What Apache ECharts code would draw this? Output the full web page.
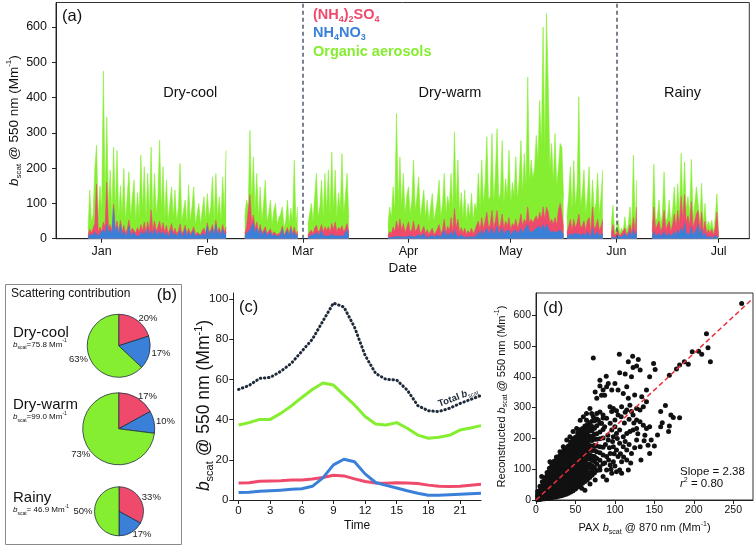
<!DOCTYPE html>
<html><head><meta charset="utf-8">
<script src="https://cdn.jsdelivr.net/npm/echarts@6/dist/echarts.min.js"></script>
<style>html,body{margin:0;padding:0;background:#fff}#c{width:756px;height:547px}</style>
</head><body><div id="c"></div>
<script>
const FONT = '"Liberation Sans", Arial, sans-serif';
const RED = '#ef4a6c', BLUE = '#3b80d8', GREEN = '#86ee30', DARK = '#1e2a3a';

// ---------- Panel (a): time series, sampled every half day ----------
const monthStarts = [0, 31, 59, 90, 120, 151, 181];
const monthNames = ['Jan', 'Feb', 'Mar', 'Apr', 'May', 'Jun', 'Jul'];
const seasonBoundaries = [59, 151];
const segmentStart = [-4, 42, 60.5, 84, 136.5, 149.5, 161.5];
const sampleStep = 0.5;
const nitrate = [
  [4,12,8,10,18,15,8,15,10,25, 15,40,18,25,12,85,15,35,10,40, 10,20,8,15,35,8,12,18,8,12, 8,18,10,22,8,28,10,22,10,28, 10,15,22,10,20,8,18,6,12,25, 8,15,6,10,22,6,12,28,6,18, 8,12,22,6,10,12,6,15,20,8, 35,10,18,28,8,40,10,22,8,28, 10,18],
  [8,15,12,25,25,45,15,30,10,28,10,15,22,8,10,18,6,12,15,6,10,10,28,5,8,22,6,28,8,18,6,12],
  [5,8,10,6,12,18,8,10,22,8,12,8,12,8,15,8,12,8,10,8,12,8,12,25,8],
  [3,5,4,8,5,10,6,10,5,8, 4,6,8,5,6,10,5,8,12,5, 8,15,5,8,4,6,10,4,6,10, 15,5,10,25,5,15,8,20,6,25, 10,15,5,12,5,10,4,8,5,10, 5,10,8,20,10,25,10,20,30,12, 15,30,10,20,35,12,15,30,10,20, 15,25,10,18,15,25,12,20,30,15, 25,20,40,20,25,20,20,30,25,35, 25,40,25,40,35,20,25,20,25,18, 20,25,20,12],
  [5,10,15,8,15,10,15,20,10,12,15,8,20,20,5,30,8,10,20,8,10,15],
  [5,10,3,5,8,3,5,4,15,4,8,20,6,25,8,20],
  [6,20,8,10,15,6,10,20,8,10, 15,6,12,20,10,25,12,30,15,45, 15,20,12,35,10,15,25,40,8,30, 6,15,5,8,5,10,3,10,15,2]
];
const sulfate = [
  [5,15,8,10,25,140,8,18,10,22, 18,120,10,15,8,12,10,15,8,12, 10,18,8,12,18,8,18,15,8,20, 10,22,12,25,10,20,12,60,12,22, 12,18,28,12,25,10,20,8,15,18, 8,15,8,12,20,8,10,10,6,12, 6,10,12,5,8,10,5,8,10,6, 10,8,8,12,6,12,8,10,6,12, 8,15],
  [8,18,18,100,18,22,12,18,8,12,6,10,12,6,8,10,5,8,8,5,6,8,8,4,6,10,5,8,6,15,6,10],
  [6,10,15,8,18,20,10,15,18,10,22,15,22,12,28,18,35,12,22,18,25,12,18,18,10],
  [6,15,10,25,15,40,20,45,18,35, 14,25,40,15,20,40,15,20,30,10, 15,20,10,18,8,15,20,8,12,18, 25,10,15,30,12,20,15,40,15,60, 20,40,12,20,10,20,8,15,10,20, 8,15,12,30,15,35,18,30,45,20, 25,50,20,30,45,20,25,40,18,30, 20,35,15,25,20,30,18,25,40,20, 30,25,50,25,30,25,25,35,25,40, 30,50,30,50,40,25,30,20,35,20, 60,75,50,20],
  [12,25,40,15,40,20,30,50,20,25,35,15,30,40,12,60,20,25,35,15,25,40],
  [10,30,6,10,15,5,10,6,15,6,12,20,10,35,10,70],
  [14,70,18,20,35,14,25,60,18,20, 35,14,28,50,20,55,25,90,35,80, 30,45,25,70,20,35,45,40,16,45, 14,35,10,18,10,18,7,20,60,3]
];
const organic = [
  [16,111,29,50,156,110,44,117,60,428, 87,185,62,155,50,163,55,200,42,98, 50,161,34,93,137,44,89,133,34,98, 42,197,58,157,42,137,48,178,38,135, 48,87,229,58,159,42,128,36,73,104, 44,108,36,68,171,36,58,72,28,122, 36,68,113,29,52,78,29,57,89,36, 83,42,64,135,36,133,42,87,36,135, 52,217],
  [44,77,60,182,57,165,53,137,42,107,34,75,132,36,52,82,29,60,77,29,44,52,54,21,36,78,29,50,36,189,28,68],
  [29,52,75,36,90,147,42,65,126,42,151,57,161,50,203,54,148,40,98,54,204,50,90,142,42],
  [31,70,46,114,60,305,74,177,67,142, 52,89,99,50,84,173,60,92,133,45, 77,103,45,84,38,69,98,38,62,82, 126,45,75,130,53,85,67,125,59,218, 70,168,53,98,45,108,38,77,45,98, 37,75,60,135,65,163,72,110,214,78, 80,218,70,130,232,78,90,208,72,120, 85,191,75,117,85,177,80,125,208,95, 186,105,368,115,168,125,155,228,170,317, 205,510,195,548,365,155,215,120,238,112, 120,170,190,88],
  [43,85,149,57,167,60,105,332,60,93,145,47,70,144,43,76,52,65,130,47,85,140],
  [25,55,11,15,30,7,15,10,32,10,20,50,14,177,22,76],
  [20,121,24,30,60,20,35,110,24,30, 60,20,40,77,30,76,33,122,40,93, 35,55,33,120,30,50,77,72,26,82, 20,50,15,24,15,25,10,30,52,5]
];
const yTicksA = [0, 100, 200, 300, 400, 500, 600];

// ---------- Panel (b): scattering contribution (%) ----------
const speciesNames = ['(NH4)2SO4', 'NH4NO3', 'Organic aerosols'];
const dryCoolShare = [20, 17, 63];
const dryWarmShare = [17, 10, 73];
const rainyShare = [33, 17, 50];

// ---------- Panel (c): diurnal cycle ----------
const hours = [0,1,2,3,4,5,6,7,8,9,10,11,12,13,14,15,16,17,18,19,20,21,22,23];
const diurnalTotal   = [55,57,60.5,61,64,68,74,80,89,98,96,86,72,63,60,59.7,54.7,47,44.4,44,45.6,48,50,52];
const diurnalOrganic = [37.3,38.5,40.1,40.1,43.1,46.8,51,55,58.2,57.2,52.2,47.3,41.5,37.8,37.3,38.5,35.7,32.3,30.7,31.2,32.2,34.8,35.8,37];
const diurnalSulfate = [8.5,8.6,9.3,9.4,9.6,10,10,10.4,11.2,12.3,12,10.5,9.2,8.5,8.3,8.6,8.4,8.2,7.4,6.9,6.7,6.8,7.3,7.8];
const diurnalNitrate = [3.7,3.8,4.3,4.6,4.9,5.3,5.6,6.8,11,17.5,20.3,19,13,8.7,7.3,6,4.6,3.4,2.4,2.4,2.6,2.9,3.1,3.4];
const xTicksC = [0,3,6,9,12,15,18,21];
const yTicksC = [0,20,40,60,80,100];

// ---------- Panel (d): reconstructed vs PAX scattering ----------
const coreColumnsX = [2,5,8,11,14,17,20,23,26,29,32,35,38,41,44,47,50,53,56,59,62,65,68,71,74,77,81,85];
const coreColumnsY = [
  [1,10,17,28],
  [2,11,23,32,45],
  [3,14,23,36,46,59],
  [4,16,26,40,49,63,72],
  [5,16,30,40,54,65,79,89],
  [6,19,29,44,54,69,79,93,103],
  [7,18,33,44,59,69,84,95,109,117],
  [9,22,33,48,59,74,85,100,111,126],
  [10,22,37,48,63,74,89,100,115,126,138],
  [12,26,37,52,63,78,89,104,115,130,141],
  [14,26,41,52,67,78,93,104,119,130,145,153],
  [16,30,41,56,67,82,93,108,119,134,145,159],
  [19,31,46,57,72,83,98,109,124,135,150,161,169],
  [22,36,47,62,73,88,99,114,125,140,151,166,175],
  [26,38,53,64,79,90,105,116,131,142,157,168,183,189],
  [30,44,55,70,81,96,107,122,133,148,159,174,185,199],
  [36,48,63,74,89,100,115,126,141,152,167,178,193,204],
  [42,56,67,82,93,108,119,134,145,160,171,186,197,212,218],
  [48,60,75,86,101,112,127,138,153,164,179,190,205,216,228],
  [54,68,79,94,105,120,131,146,157,172,183,198,209,224,232],
  [60,72,87,98,113,124,139,150,165,176,191,202,217,228,240],
  [66,80,91,106,117,132,143,158,169,184,195,210,221,236,244],
  [73,87,104,117,134,147,164,177,194,207,224,237,251],
  [80,97,111,129,143,161,175,193,207,225,239,256],
  [88,105,125,141,161,177,197,213,233,257],
  [96,117,135,157,175,197,215,241,263],
  [108,129,153,173,199,221,249],
  [118,146,171,201,229,266]
];
const scatteredPoints = [
  [260.6,638],[216,540],[218,494],[206,483],[198,481],[210,473],[221,449],[193,441],[188,449],[182,438],[178,425],[169,405],
  [72.6,461],[105.6,473],[122.5,467],[129.6,456],[117,449],[127.5,435],[123,430],[132,422],[106,413],[113,409],[121,400],[89,402],[100,378],[151,424],[149,443],[144,400],[140,357],[81,370],[75,351],[77,330],[87,340],
  [164,307],[158,287],[160,251],[158,238],[154,211],[171,276],[174,268],[169,240],[168,222],[182,267],
  [93.8,303],[95.9,287],[98,297],[102,290],[104,276],[108.5,303],[115,292],[119,308],[121,287],[123,276],[127.5,297],[131.8,292],[136,303],[127.5,260],[131.8,254],[136,243],[140,232],[144,238],[127.5,232],[123,227],[119,222],[115,216],[110.6,205],[121,151],[127.5,195],[137,192],[142,178],[144,151],[132,173],[108.5,87],[106,97],[98,124],[94,114],[81,97],[75,65],[68.4,52],[85,76],[89.5,65],[7.2,76],[17.7,124],[58,38],[62,32],
  [83,340],[85,357],[89.5,368],[96,357],[81,389],[91.6,378],[104,357],[110.6,346],[117,330],[125,341],[134,335],[140,319],[115,368],
  [72.6,270],[77,281],[81,286],[85,276],[89.5,265],[79,259],[83,249],[87,238],[94,249],[96,227],[100,238],[102,216],[106,227],[98,205],[91.6,195],[106,184],[110.6,173],[115,162],[102,162],[98,173],[94,151],[89.5,141],[104,141],[108.5,124],[115,130],[117,97],[102,92],[96,87],[89.5,97],
  [56,259],[60,270],[64,281],[51.5,232],[47,222],[43,205],[39,195],[34.6,173],[30.4,157],[26,140],[68.4,297],[70.5,281],[64,259],
  [88,180],[91,210],[93,170],[97,190],[99,150],[92,130],[87,120],[95,100],[100,110],[103,200],[107,150],[111,140],[113,190],[118,180],[120,120],[125,170],[129,215],[133,130],[138,210],[146,195],[150,175],[112,250],[118,262],[124,250],[100,260],[108,270],[113,285]
];
const regressionSlope = 2.38;
const xTicksD = [0,50,100,150,200,250];
const yTicksD = [0,100,200,300,400,500,600];

// ---------- build ----------
// cumulative layers (nitrate at the bottom, sulfate above, organics on top)
function layer(parts) {
  const out = [];
  segmentStart.forEach((t0, k) => {
    const n = parts[0][k].length;
    for (let j = 0; j < n; j++) {
      let s = 0;
      parts.forEach(p => { s += p[k][j]; });
      out.push([t0 + j * sampleStep, s]);
    }
    out.push([t0 + n * sampleStep, '-']);
  });
  return out;
}
function rich(size, color) {
  const sub = Math.round(size * 0.6);
  color = color || '#111';
  return {
    i: {fontStyle: 'italic', fontSize: size, fontFamily: FONT, color, lineHeight: size + 4},
    s: {fontSize: sub, fontFamily: FONT, color, verticalAlign: 'bottom', lineHeight: sub},
    p: {fontSize: sub, fontFamily: FONT, color, verticalAlign: 'top', lineHeight: sub}
  };
}
const corePoints = [];
coreColumnsX.forEach((x, i) => coreColumnsY[i].forEach(y => corePoints.push([x, y])));

const axisCommon = () => ({
  axisLine: {show: true, onZero: false, lineStyle: {color: '#222', width: 1}},
  splitLine: {show: false},
  nameMoveOverlap: false
});
const bscatName = '{i|b}{s|scat} @ 550 nm (Mm{p|-1})';

const xAxes = [
  Object.assign(axisCommon(), {gridIndex: 0, type: 'value', min: -13.4, max: 190,
    axisTick: {show: true, length: 4, customValues: monthStarts, lineStyle: {color: '#222'}},
    axisLabel: {fontFamily: FONT, fontSize: 12.5, color: '#111', margin: 6, customValues: monthStarts,
      formatter: v => monthNames[monthStarts.indexOf(v)]},
    name: 'Date', nameLocation: 'middle', nameGap: 23,
    nameTextStyle: {fontFamily: FONT, fontSize: 13.5, color: '#111'}}),
  Object.assign(axisCommon(), {gridIndex: 1, type: 'value', min: -0.5, max: 23,
    axisTick: {show: true, length: 4, customValues: xTicksC, lineStyle: {color: '#222'}},
    axisLabel: {fontFamily: FONT, fontSize: 11.5, color: '#111', margin: 5, customValues: xTicksC},
    name: 'Time', nameLocation: 'middle', nameGap: 20,
    nameTextStyle: {fontFamily: FONT, fontSize: 12, color: '#111'}}),
  Object.assign(axisCommon(), {gridIndex: 2, type: 'value', min: 0, max: 275,
    axisTick: {show: true, length: 4, customValues: xTicksD, lineStyle: {color: '#222'}},
    axisLabel: {fontFamily: FONT, fontSize: 10.5, color: '#111', margin: 5, customValues: xTicksD},
    name: 'PAX {i|b}{s|scat} @ 870 nm (Mm{p|-1})', nameLocation: 'middle', nameGap: 20.5,
    nameTextStyle: {fontFamily: FONT, fontSize: 11, color: '#111', lineHeight: 15, rich: rich(11)}})
];
const yAxes = [
  Object.assign(axisCommon(), {gridIndex: 0, type: 'value', min: 0, max: 669.5,
    axisTick: {show: true, length: 4, customValues: yTicksA, lineStyle: {color: '#222'}},
    axisLabel: {fontFamily: FONT, fontSize: 12.5, color: '#111', margin: 9, customValues: yTicksA},
    name: bscatName, nameLocation: 'middle', nameGap: 33, nameRotate: 90,
    nameTextStyle: {fontFamily: FONT, fontSize: 13.5, color: '#111', lineHeight: 18, rich: rich(13.5)}}),
  Object.assign(axisCommon(), {gridIndex: 1, type: 'value', min: 0, max: 103,
    axisTick: {show: true, length: 4, customValues: yTicksC, lineStyle: {color: '#222'}},
    axisLabel: {fontFamily: FONT, fontSize: 11.5, color: '#111', margin: 5, customValues: yTicksC},
    name: bscatName, nameLocation: 'middle', nameGap: 18, nameRotate: 90,
    nameTextStyle: {fontFamily: FONT, fontSize: 17.5, color: '#111', lineHeight: 21, rich: rich(17.5), padding: [0, 18, 0, 0]}}),
  Object.assign(axisCommon(), {gridIndex: 2, type: 'value', min: 0, max: 672,
    axisTick: {show: true, length: 4, customValues: yTicksD, lineStyle: {color: '#222'}},
    axisLabel: {fontFamily: FONT, fontSize: 10.5, color: '#111', margin: 5, customValues: yTicksD},
    name: 'Reconstructed ' + bscatName, nameLocation: 'middle', nameGap: 27, nameRotate: 90,
    nameTextStyle: {fontFamily: FONT, fontSize: 11, color: '#111', lineHeight: 15, rich: rich(11)}})
];

function areaSeries(name, data, color, z) {
  return {type: 'line', name, xAxisIndex: 0, yAxisIndex: 0, data, connectNulls: false,
    symbol: 'none', silent: true, z, lineStyle: {width: 0.6, color}, areaStyle: {color, opacity: 1, origin: 'start'}};
}
function pieSeries(values, center, radius) {
  return {type: 'pie', center, radius, startAngle: 90, clockwise: true, silent: true, avoidLabelOverlap: false,
    data: values.map((v, i) => ({value: v, name: speciesNames[i], itemStyle: {color: [RED, BLUE, GREEN][i]}})),
    itemStyle: {borderColor: '#1f2d3d', borderWidth: 0.8},
    label: {show: true, position: 'outside', formatter: '{c}%', fontFamily: FONT, fontSize: 9.5, color: '#222', distanceToLabelLine: 0},
    labelLine: {show: false, length: 2, length2: 0}};
}
function diurnal(values, color, style) {
  return {type: 'line', xAxisIndex: 1, yAxisIndex: 1, data: hours.map((h, i) => [h, values[i]]),
    symbol: 'none', silent: true, lineStyle: Object.assign({width: 3, color, join: 'round'}, style || {})};
}

const gridBase = {outerBoundsMode: 'none', containLabel: false};
const option = {
  animation: false,
  backgroundColor: '#fff',
  grid: [
    Object.assign({left: 56, top: 2.5, width: 693.3, height: 236.2, show: true, borderColor: '#333', borderWidth: 1}, gridBase),
    Object.assign({left: 233.3, top: 293, width: 247.7, height: 207}, gridBase),
    Object.assign({left: 536, top: 293, width: 217, height: 207, show: true, borderColor: '#333', borderWidth: 1}, gridBase)
  ],
  xAxis: xAxes,
  yAxis: yAxes,
  series: [
    Object.assign(areaSeries('Organic aerosols', layer([nitrate, sulfate, organic]), GREEN, 2), {
      markLine: {silent: true, symbol: ['none', 'none'], label: {show: false},
        lineStyle: {color: '#4d5b6b', type: [4, 3], width: 1.5},
        data: seasonBoundaries.map(v => ({xAxis: v}))}
    }),
    areaSeries('(NH4)2SO4', layer([nitrate, sulfate]), RED, 3),
    areaSeries('NH4NO3', layer([nitrate]), BLUE, 4),
    pieSeries(dryCoolShare, [118.7, 345.8], 31.5),
    pieSeries(dryWarmShare, [118.7, 428.8], 36),
    pieSeries(rainyShare, [119, 511.3], 24.5),
    diurnal(diurnalOrganic, GREEN),
    diurnal(diurnalSulfate, RED),
    diurnal(diurnalNitrate, BLUE),
    diurnal(diurnalTotal, DARK, {type: [0.5, 3.6], cap: 'round', width: 3}),
    {type: 'scatter', xAxisIndex: 2, yAxisIndex: 2, data: corePoints.concat(scatteredPoints),
      symbolSize: 5, silent: true, itemStyle: {color: '#111', opacity: 1}},
    {type: 'line', xAxisIndex: 2, yAxisIndex: 2, symbol: 'none', silent: true, z: 5,
      data: [[0, 0], [275, regressionSlope * 275]],
      lineStyle: {color: '#e8303c', width: 1.5, type: [5, 3]}}
  ],
  graphic: [
    {type: 'text', x: 62, y: 16, style: {text: '(a)', font: '16.5px ' + FONT, fill: '#111', verticalAlign: 'middle'}},
    {type: 'text', x: 313, y: 15, style: {text: '(NH{s|4}){s|2}SO{s|4}', fontFamily: FONT, fontSize: 14.5, fontWeight: 'bold', fill: RED, verticalAlign: 'middle', lineHeight: 18,
      rich: {s: {fontSize: 9, fontWeight: 'bold', fontFamily: FONT, fill: RED, verticalAlign: 'bottom', lineHeight: 9}}}},
    {type: 'text', x: 313, y: 33, style: {text: 'NH{s|4}NO{s|3}', fontFamily: FONT, fontSize: 14.5, fontWeight: 'bold', fill: BLUE, verticalAlign: 'middle', lineHeight: 18,
      rich: {s: {fontSize: 9, fontWeight: 'bold', fontFamily: FONT, fill: BLUE, verticalAlign: 'bottom', lineHeight: 9}}}},
    {type: 'text', x: 313, y: 52, style: {text: 'Organic aerosols', font: 'bold 14.5px ' + FONT, fill: GREEN, verticalAlign: 'middle'}},
    {type: 'text', x: 190.3, y: 93, style: {text: 'Dry-cool', font: '14.5px ' + FONT, fill: '#111', align: 'center', verticalAlign: 'middle'}},
    {type: 'text', x: 450, y: 93, style: {text: 'Dry-warm', font: '14.5px ' + FONT, fill: '#111', align: 'center', verticalAlign: 'middle'}},
    {type: 'text', x: 682.5, y: 93, style: {text: 'Rainy', font: '14.5px ' + FONT, fill: '#111', align: 'center', verticalAlign: 'middle'}},
    // panel (b)
    {type: 'rect', shape: {x: 5.5, y: 284.5, width: 176, height: 260}, style: {fill: 'none', stroke: '#8a8a8a', lineWidth: 1}},
    {type: 'text', x: 11, y: 293.5, style: {text: 'Scattering contribution', font: '12px ' + FONT, fill: '#111', verticalAlign: 'middle'}},
    {type: 'text', x: 177, y: 295, style: {text: '(b)', font: '16.5px ' + FONT, fill: '#111', align: 'right', verticalAlign: 'middle'}},
    {type: 'text', x: 13, y: 333, style: {text: 'Dry-cool', font: '15px ' + FONT, fill: '#111', verticalAlign: 'middle'}},
    {type: 'text', x: 13, y: 344.5, style: {text: '{i|b}{s|scat}=75.8 Mm{p|-1}', fontFamily: FONT, fontSize: 8, fill: '#111', verticalAlign: 'middle', lineHeight: 12, rich: rich(8)}},
    {type: 'text', x: 13, y: 405, style: {text: 'Dry-warm', font: '15px ' + FONT, fill: '#111', verticalAlign: 'middle'}},
    {type: 'text', x: 13, y: 417, style: {text: '{i|b}{s|scat}=99.0 Mm{p|-1}', fontFamily: FONT, fontSize: 8, fill: '#111', verticalAlign: 'middle', lineHeight: 12, rich: rich(8)}},
    {type: 'text', x: 13, y: 498, style: {text: 'Rainy', font: '15px ' + FONT, fill: '#111', verticalAlign: 'middle'}},
    {type: 'text', x: 13, y: 510, style: {text: '{i|b}{s|scat}= 46.9 Mm{p|-1}', fontFamily: FONT, fontSize: 8, fill: '#111', verticalAlign: 'middle', lineHeight: 12, rich: rich(8)}},
    // panel (c)
    {type: 'text', x: 239, y: 307, style: {text: '(c)', font: '16.5px ' + FONT, fill: '#111', verticalAlign: 'middle'}},
    {type: 'text', x: 458, y: 397, rotation: 0.36, style: {text: 'Total {i|b}{s|scat}', fontFamily: FONT, fontSize: 9.5, fontWeight: 'bold', fill: DARK, align: 'center', verticalAlign: 'middle', lineHeight: 12,
      rich: {i: {fontStyle: 'italic', fontWeight: 'bold', fontSize: 9.5, fontFamily: FONT, fill: DARK, lineHeight: 12}, s: {fontSize: 6, fontFamily: FONT, fill: DARK, verticalAlign: 'bottom', lineHeight: 6}}}},
    // panel (d)
    {type: 'text', x: 543, y: 308, style: {text: '(d)', font: '16.5px ' + FONT, fill: '#111', verticalAlign: 'middle'}},
    {type: 'text', x: 680, y: 471.5, style: {text: 'Slope = 2.38', font: '11.5px ' + FONT, fill: '#111', verticalAlign: 'middle'}},
    {type: 'text', x: 680, y: 484, style: {text: '{i|r}{p|2} = 0.80', fontFamily: FONT, fontSize: 11.5, fill: '#111', verticalAlign: 'middle', lineHeight: 15, rich: rich(11.5)}}
  ]
};
const chart = echarts.init(document.getElementById('c'), null, {renderer: 'canvas', width: 756, height: 547});
chart.setOption(option);
</script>
</body></html>
